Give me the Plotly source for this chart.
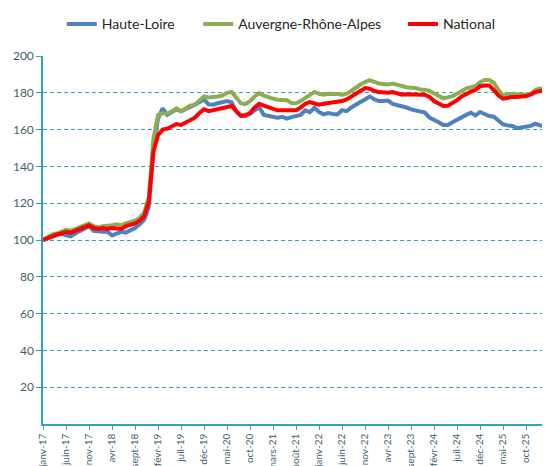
import plotly.graph_objects as go

# month labels, janv-17 .. mars-26
month_abbr = ["janv", "févr", "mars", "avr", "mai", "juin", "juil", "août", "sept", "oct", "nov", "déc"]
months = [f"{m}-{y}" for y in range(17, 27) for m in month_abbr][:111]

haute_loire = [
    100, 101, 102, 102.5, 103.5, 102.5, 102, 103.5, 105, 106, 107.5, 105,
    104.5, 104.5, 104.5, 102.5, 103.5, 104.5, 104, 105, 106.5, 108.5, 111, 118,
    150, 166, 171.5, 168, 169.5, 171, 170, 171, 172.5, 173.5, 175, 176.4,
    173.7, 173.5, 174.3, 174.8, 175.5, 174.8, 170, 167.5, 167.8, 168.5, 170.5, 172,
    168, 167.5, 167.5, 166.5, 167, 166, 166.8, 167.5, 168, 170.5, 169.5, 171.9,
    169.5, 168.3, 169, 168.5, 168.3, 170.5, 170, 172, 173.7, 175, 176.4, 178,
    176.5, 175.5, 175.5, 175.8, 174, 173.5, 172.8, 172, 171, 170.5, 169.5, 169.2,
    166.5, 165.5, 164, 162.5, 162.5, 164, 165.5, 166.8, 168, 169.2, 167.7, 169.6,
    168.5, 167.4, 167, 165, 162.8, 162.3, 162, 160.8, 161.3, 161.6, 162, 163.2,
    162.3, 162, 161.6,
]
auvergne_rhone_alpes = [
    100, 101.5, 103, 103.5, 104.5, 105.5, 105, 106, 107, 108, 109, 107.5,
    107, 107.5, 107.5, 108, 108.5, 108, 109, 109.5, 110.5, 112, 115, 123,
    155, 168, 169, 168.5, 170, 171.5, 170, 171.5, 173, 173.5, 176, 178,
    177.5, 177.5, 178, 178.5, 180, 180.5, 177, 174.3, 173.8, 175.5, 178, 179.8,
    178.5, 177.5, 176.8, 176.2, 176, 176, 174.5, 174.3, 175.5, 177, 178.5, 180.5,
    179.5, 179, 179.5, 179.6, 179.3, 179, 179.5, 181, 183, 184.5, 185.8, 186.9,
    186, 185, 184.8, 184.5, 185, 184.3, 183.5, 183, 182.8, 182.6, 181.8, 181.7,
    181, 179.5, 178, 177, 177.5, 178.2, 179.5, 181, 182.4, 183, 183.7, 185.8,
    187, 187, 185.5, 181.5, 178.5, 179.2, 179.5, 179.2, 179, 179, 179.5, 181.5,
    182.3, 182, 181,
]
national = [
    100, 101, 102.5, 103, 103.5, 104.5, 104, 105, 106, 107, 108, 106.5,
    106, 106.5, 106, 106.5, 106.5, 106, 107.5, 108, 109, 110.5, 113, 121,
    148, 157, 160, 160.5, 162, 163, 162.5, 164, 165.5, 166.5, 169, 171,
    170, 170.5, 171, 172, 172.5, 172.8, 170, 167.5, 167.5, 169, 172, 174,
    173, 172, 171, 170.5, 170.5, 170.5, 170, 170.5, 172, 174, 175, 174,
    173.5, 174, 174.3, 174.5, 175, 175.5, 176.4, 178, 180, 181.5, 182.6, 182.2,
    181, 180.4, 180.2, 180, 180.4, 179.5, 179, 179.2, 179, 179, 179, 179,
    177.8, 175.5, 174, 172.8, 173, 174.3, 176, 178, 179.5, 180.6, 181.5, 183.6,
    184, 184, 181.5, 178.5, 176.8, 177.3, 177.7, 177.7, 177.8, 178.2, 179, 180.4,
    181, 180.8, 180,
]

series = [
    ("Haute-Loire", haute_loire, "#4F81BD", "legend", 0.037),
    ("Auvergne-Rhône-Alpes", auvergne_rhone_alpes, "#8DAD52", "legend2", 0.306),
    ("National", national, "#FF0000", "legend3", 0.71),
]

AXIS = "#31A3B9"
TEXT = "#3F5F6B"

fig = go.Figure()
for name, vals, color, leg, _ in series:
    fig.add_trace(go.Scatter(
        x=months, y=vals, name=name, mode="lines",
        line=dict(color=color, width=4),
        legend=leg,
    ))

legend_style = dict(
    orientation="h", yanchor="middle", y=1.086, xanchor="left",
    font=dict(family="Lato", size=14, color="#262626"),
    bgcolor="rgba(0,0,0,0)",
)
layout_legends = {}
for name, vals, color, leg, lx in series:
    layout_legends[leg] = dict(legend_style, x=lx)

# page body has an 8px margin, so the figure is 8px smaller than the window
fig.update_layout(
    width=542, height=458,
    margin=dict(l=35, r=0, t=44, b=42),
    paper_bgcolor="white",
    plot_bgcolor="white",
    showlegend=True,
    font=dict(family="Lato", size=12, color=TEXT),
    xaxis=dict(
        type="category",
        range=[0, 110.2],
        tickmode="array",
        tickvals=months[::5],
        ticktext=months[::5],
        tickangle=-90,
        ticks="outside", ticklen=4, tickcolor=AXIS,
        showline=True, linecolor=AXIS, linewidth=1.5,
        showgrid=False,
        tickfont=dict(family="Lato", size=10, color=TEXT),
        automargin=False,
    ),
    yaxis=dict(
        range=[0, 200],
        tickmode="array",
        tickvals=list(range(20, 201, 20)),
        ticks="outside", ticklen=5, tickcolor=AXIS,
        showline=True, linecolor=AXIS, linewidth=1.5,
        showgrid=True, gridcolor=AXIS, griddash="4px,3px", gridwidth=1,
        zeroline=False,
        tickfont=dict(family="Lato", size=12, color=TEXT),
        automargin=False,
    ),
    **layout_legends,
)

fig.write_html("out.html")
